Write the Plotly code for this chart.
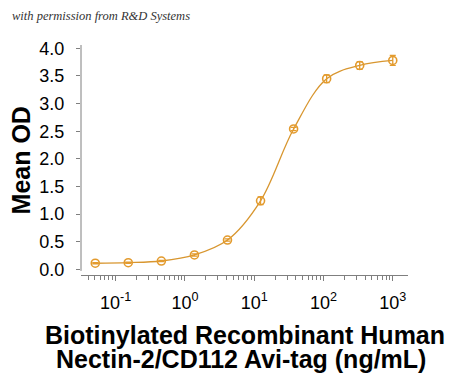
import plotly.graph_objects as go

# Data (3-fold dilution series, ng/mL)
conc = [0.0508, 0.152, 0.457, 1.372, 4.115, 12.35, 37.04, 111.1, 333.3, 1000]
mean_od = [0.11, 0.12, 0.15, 0.26, 0.53, 1.24, 2.54, 3.45, 3.69, 3.78]
od_err = [0.01, 0.01, 0.01, 0.02, 0.02, 0.07, 0.03, 0.07, 0.07, 0.09]
x_tick_vals = [0.1, 1, 10, 100, 1000]
x_tick_text = ["10<sup>-1</sup>", "10<sup>0</sup>", "10<sup>1</sup>", "10<sup>2</sup>", "10<sup>3</sup>"]
y_tick_vals = [0.0, 0.5, 1.0, 1.5, 2.0, 2.5, 3.0, 3.5, 4.0]
y_tick_text = ["0.0", "0.5", "1.0", "1.5", "2.0", "2.5", "3.0", "3.5", "4.0"]

ORANGE = "#E39B2E"
LINE = "#D8962F"
AXIS = "#7f7f7f"

fig = go.Figure()
fig.add_trace(go.Scatter(
    x=conc, y=mean_od, mode="lines",
    line=dict(color=LINE, width=1.3, shape="spline", smoothing=1.0),
    hoverinfo="skip", showlegend=False))
fig.add_trace(go.Scatter(
    x=conc, y=mean_od, mode="markers",
    marker=dict(symbol="circle-open", size=8, color=ORANGE, line=dict(width=1.6, color=ORANGE)),
    error_y=dict(type="data", array=od_err, visible=True, color=ORANGE, thickness=1.3, width=3),
    showlegend=False))

fig.update_layout(
    width=450, height=380,
    margin=dict(l=81, r=42, t=45, b=105),
    paper_bgcolor="white", plot_bgcolor="white",
    font=dict(family="Liberation Sans, Arial, sans-serif", color="black"),
    xaxis=dict(
        type="log", range=[-1.5, 3.22],
        tickmode="array", tickvals=x_tick_vals, ticktext=x_tick_text,
        ticks="outside", ticklen=5, tickcolor=AXIS, tickwidth=1,
        minor=dict(dtick="D1", ticks="outside",
                   ticklen=4, tickcolor=AXIS, tickwidth=1, showgrid=False),
        showline=True, linecolor=AXIS, linewidth=1,
        showgrid=False, zeroline=False,
        tickfont=dict(size=18), ticklabelstandoff=6,
    ),
    yaxis=dict(
        range=[-0.103, 4.06],
        tickvals=y_tick_vals, ticktext=y_tick_text,
        ticks="outside", ticklen=4, tickcolor=AXIS, tickwidth=1,
        showline=False, showgrid=False, zeroline=False,
        tickfont=dict(size=18), ticklabelstandoff=8,
    ),
    shapes=[dict(type="line", xref="paper", yref="paper", x0=0, x1=0, y0=0.018, y1=1,
                 line=dict(color=AXIS, width=1))],
    annotations=[
        dict(text="with permission from R&amp;D Systems", xref="paper", yref="paper",
             x=-0.218, y=1.125, xanchor="left", yanchor="middle", showarrow=False,
             font=dict(family="Liberation Serif, serif", size=12.5, color="#333333", style="italic")),
        dict(text="<b>Mean OD</b>", xref="paper", yref="paper", x=-0.185, y=0.496,
             textangle=-90, showarrow=False, xanchor="center", yanchor="middle",
             font=dict(size=25)),
        dict(text="<b>Biotinylated Recombinant Human</b>", xref="paper", yref="paper",
             x=0.502, y=-0.261, showarrow=False, xanchor="center", yanchor="middle",
             font=dict(size=25)),
        dict(text="<b>Nectin-2/CD112 Avi-tag (ng/mL)</b>", xref="paper", yref="paper",
             x=0.49, y=-0.365, showarrow=False, xanchor="center", yanchor="middle",
             font=dict(size=25)),
    ],
)

fig.write_html("out.html", config={"displayModeBar": False},
               post_script="document.body.style.margin='0';")
